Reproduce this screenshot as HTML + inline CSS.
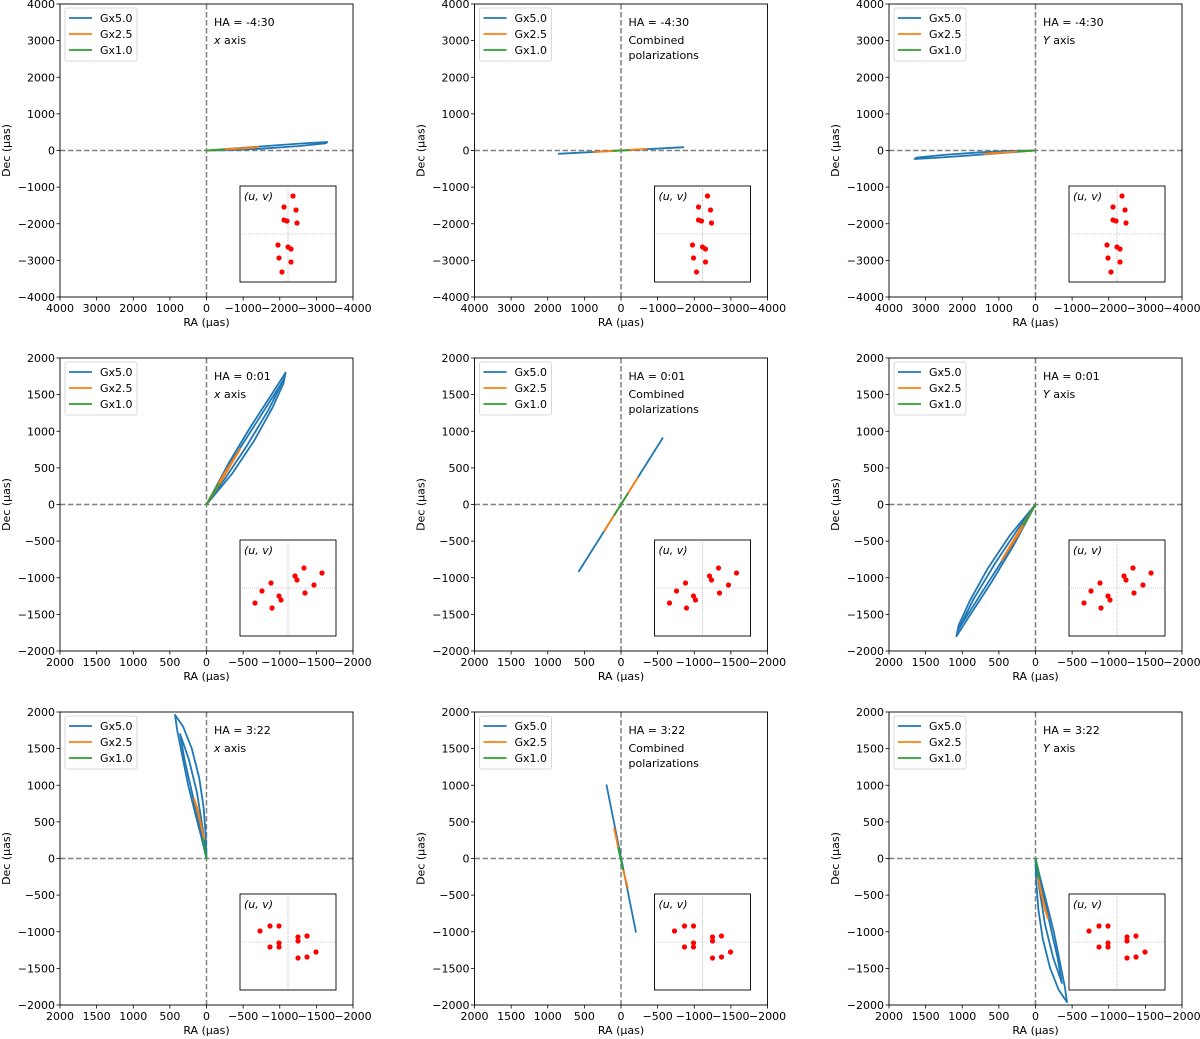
<!DOCTYPE html>
<html><head><meta charset="utf-8">
<style>
html,body{margin:0;padding:0;background:#fff;}
svg{display:block;font-family:"DejaVu Sans","Liberation Sans",sans-serif;}
</style></head>
<body>
<svg id="fig" width="1200" height="1039" viewBox="0 0 1200 1039" xmlns="http://www.w3.org/2000/svg"></svg>
<script>
// ---------- data ----------
const haLabels = ["HA = -4:30", "HA = 0:01", "HA = 3:22"];
const colLabels1 = ["x axis", "Combined", "Y axis"];
const colLabels2 = ["", "polarizations", ""];
const legendNames = ["Gx5.0", "Gx2.5", "Gx1.0"];
const rowLimits = [4000, 2000, 2000];
const ticksRow1 = [4000, 3000, 2000, 1000, 0, -1000, -2000, -3000, -4000];
const ticksRow23 = [2000, 1500, 1000, 500, 0, -500, -1000, -1500, -2000];

// (u,v) inset points, per row
const uvRow1 = [[5,38],[-4,27],[8,24],[-4,14],[-1,13],[9,11],[-10,-11],[0,-13],[3,-15],[-9,-24],[3,-28],[-6,-38]];
const uvRow2 = [[16,20],[34,15],[7,12],[9,8],[26,3],[17,-5],[-17,5],[-26,-3],[-9,-8],[-7,-12],[-33,-15],[-16,-20]];
const uvRow3 = [[-28,11],[-18,16],[-9,16],[-9,-1],[-9,-5],[-18,-5],[10,5],[10,1],[19,6],[10,-16],[19,-15],[28,-10]];

// Row 1 curves [RA, Dec]
const r1c1Blue = [[0,0],[-1000,75],[-2000,150],[-2800,205],[-3300,232],[-3250,195],[-2500,120],[-1500,50],[-700,12],[0,0]];
const r1c1Orange = [[0,0],[-700,45],[-1400,95],[-1300,80],[-600,30],[0,0]];
const r1c1Green = [[0,0],[-500,30]];
const r1c2Blue = [[1720,-90],[-1720,90]];
const r1c2Orange = [[760,-45],[-710,45]];
const r1c2Green = [[220,-12],[-220,12]];
const r1c3Blue = [[0,0],[1000,-75],[2000,-150],[2800,-205],[3300,-232],[3250,-195],[2500,-120],[1500,-50],[700,-12],[0,0]];
const r1c3Orange = [[0,0],[700,-45],[1400,-95],[1300,-80],[600,-30],[0,0]];
const r1c3Green = [[0,0],[500,-30]];

// Row 2 curves
const r2c1BlueA = [[0,0],[-300,560],[-600,1060],[-900,1520],[-1080,1800],[-1050,1650],[-900,1320],[-650,870],[-350,420],[0,0]];
const r2c1BlueB = [[0,0],[-350,600],[-700,1150],[-1000,1620],[-1060,1720],[-850,1300],[-550,800],[-250,350],[0,0]];
const r2c1Orange = [[0,0],[-230,400],[-460,760],[-420,690],[-200,320],[0,0]];
const r2c1Green = [[0,0],[-170,290]];
const r2c2Blue = [[580,-920],[-573,914]];
const r2c2Orange = [[232,-370],[-232,370]];
const r2c2Green = [[95,-150],[-95,150]];
const r2c3BlueA = [[0,0],[300,-560],[600,-1060],[900,-1520],[1080,-1800],[1050,-1650],[900,-1320],[650,-870],[350,-420],[0,0]];
const r2c3BlueB = [[0,0],[350,-600],[700,-1150],[1000,-1620],[1060,-1720],[850,-1300],[550,-800],[250,-350],[0,0]];
const r2c3Orange = [[0,0],[230,-400],[460,-760],[420,-690],[200,-320],[0,0]];
const r2c3Green = [[0,0],[170,-290]];

// Row 3 curves
const r3c1BlueA = [[0,0],[10,300],[40,700],[100,1100],[200,1500],[320,1800],[430,1960],[400,1750],[330,1400],[250,1000],[150,600],[60,250],[0,0]];
const r3c1BlueB = [[0,0],[50,400],[130,900],[240,1350],[360,1700],[300,1350],[220,1000],[120,550],[0,0]];
const r3c1Orange = [[30,250],[100,550],[170,820],[130,700],[60,400],[30,250]];
const r3c1Green = [[0,0],[50,280]];
const r3c2Blue = [[200,1010],[-205,-1010]];
const r3c2Orange1 = [[95,420],[40,150]];
const r3c2Orange2 = [[-30,-160],[-95,-410]];
const r3c2Green = [[40,150],[-30,-160]];
const r3c3BlueA = [[0,0],[-10,-300],[-40,-700],[-100,-1100],[-200,-1500],[-320,-1800],[-430,-1960],[-400,-1750],[-330,-1400],[-250,-1000],[-150,-600],[-60,-250],[0,0]];
const r3c3BlueB = [[0,0],[-50,-400],[-130,-900],[-240,-1350],[-360,-1700],[-300,-1350],[-220,-1000],[-120,-550],[0,0]];
const r3c3Orange = [[-30,-250],[-100,-550],[-170,-820],[-130,-700],[-60,-400],[-30,-250]];
const r3c3Green = [[0,0],[-50,-280]];

const BLUE="#1f77b4", ORANGE="#ff7f0e", GREEN="#2ca02c";
const seriesByPanel = [
 [[[r1c1Blue,BLUE],[r1c1Orange,ORANGE],[r1c1Green,GREEN]],
  [[r1c2Blue,BLUE],[r1c2Orange,ORANGE],[r1c2Green,GREEN]],
  [[r1c3Blue,BLUE],[r1c3Orange,ORANGE],[r1c3Green,GREEN]]],
 [[[r2c1BlueA,BLUE],[r2c1BlueB,BLUE],[r2c1Orange,ORANGE],[r2c1Green,GREEN]],
  [[r2c2Blue,BLUE],[r2c2Orange,ORANGE],[r2c2Green,GREEN]],
  [[r2c3BlueA,BLUE],[r2c3BlueB,BLUE],[r2c3Orange,ORANGE],[r2c3Green,GREEN]]],
 [[[r3c1BlueA,BLUE],[r3c1BlueB,BLUE],[r3c1Orange,ORANGE],[r3c1Green,GREEN]],
  [[r3c2Blue,BLUE],[r3c2Orange1,ORANGE],[r3c2Orange2,ORANGE],[r3c2Green,GREEN]],
  [[r3c3BlueA,BLUE],[r3c3BlueB,BLUE],[r3c3Orange,ORANGE],[r3c3Green,GREEN]]]
];
const uvByRow = [uvRow1, uvRow2, uvRow3];

// ---------- drawing ----------
const NS="http://www.w3.org/2000/svg";
const svg=document.getElementById('fig');
function mk(tag, attrs, parent, text){
  const e=document.createElementNS(NS,tag);
  for(const k in attrs) e.setAttribute(k, attrs[k]);
  if(text!==undefined) e.textContent=text;
  (parent||svg).appendChild(e);
  return e;
}
const colLeft=[60,474.5,889], rowTop=[4,358,712], SZ=293;
const fmt=v=> v<0 ? "\u2212"+(-v) : ""+v;

for(let r=0;r<3;r++){
 for(let c=0;c<3;c++){
  const L=colLeft[c], T=rowTop[r], lim=rowLimits[r];
  const xs=v=> L + (lim - v)/(2*lim)*SZ;   // RA reversed
  const ys=v=> T + (lim - v)/(2*lim)*SZ;
  const g=mk('g',{});
  
  
  const zx=mk('line',{x1:xs(0),x2:xs(0),y1:T,y2:T+SZ,stroke:'#808080','stroke-width':1.5,'stroke-dasharray':'5.5,2.5'},g);
  
  
  const zy=mk('line',{x1:L,x2:L+SZ,y1:ys(0),y2:ys(0),stroke:'#808080','stroke-width':1.5,'stroke-dasharray':'5.5,2.5'},g);
  
  
  seriesByPanel[r][c].forEach(([pts,col])=>{
    const p=mk('polyline',{points:pts.map(q=>xs(q[0]).toFixed(1)+','+ys(q[1]).toFixed(1)).join(' '),fill:'none',stroke:col,'stroke-width':1.8,'stroke-linejoin':'round'},g);
    
    
  });
  const fr=mk('rect',{x:L,y:T,width:SZ,height:SZ,fill:'none',stroke:'#000','stroke-width':0.9},g);
  
  
  const ticks = r===0?ticksRow1:ticksRow23;
  ticks.forEach(t=>{
    mk('line',{x1:xs(t),x2:xs(t),y1:T+SZ,y2:T+SZ+3.5,stroke:'#000','stroke-width':0.8},g);
    const tx=mk('text',{x:xs(t),y:T+SZ+15,'text-anchor':'middle','font-size':11,fill:'#000'},g,fmt(t));
    
    
    mk('line',{x1:L-3.5,x2:L,y1:ys(t),y2:ys(t),stroke:'#000','stroke-width':0.8},g);
    const ty=mk('text',{x:L-5,y:ys(t)+4,'text-anchor':'end','font-size':11,fill:'#000'},g,fmt(t));
    
    
  });
  const xl=mk('text',{x:L+SZ/2,y:T+SZ+29,'text-anchor':'middle','font-size':11,fill:'#000'},g,"RA (\u00b5as)");
  
  
  const yl=mk('text',{x:0,y:0,'text-anchor':'middle','font-size':11,fill:'#000',transform:`translate(${L-50},${T+SZ/2}) rotate(-90)`},g,"Dec (\u00b5as)");
  
  
  const lg=mk('g',{},g);
  
  
  mk('rect',{x:L+5,y:T+4,width:72,height:53,rx:2,fill:'#fff',stroke:'#d0d0d0','stroke-width':0.8},lg);
  [BLUE,ORANGE,GREEN].forEach((col,i)=>{
    const y=T+14+i*16;
    mk('line',{x1:L+9,x2:L+32,y1:y,y2:y,stroke:col,'stroke-width':1.8},lg);
    const le=mk('text',{x:L+40,y:y+4,'font-size':11,fill:'#000'},lg,legendNames[i]);
    
    
  });
  const a1=mk('text',{x:L+154,y:T+22,'font-size':11,fill:'#000'},g,haLabels[r]);
  
  
  const a2=mk('text',{x:L+154,y:T+40,'font-size':11,fill:'#000'},g);
  
  
  if(c===1){ a2.textContent=colLabels1[1]; mk('text',{x:L+154,y:T+55,'font-size':11,fill:'#000'},g,colLabels2[1]); }
  else { const parts=colLabels1[c].split(' ');
    mk('tspan',{'font-style':'italic'},a2,parts[0]); mk('tspan',{},a2,' '+parts[1]); }
  const IX=L+180, IY=T+182, IS=96;
  const ig=mk('g',{},g);
  
  
  mk('rect',{x:IX,y:IY,width:IS,height:IS,fill:'#fff',stroke:'#000','stroke-width':0.9},ig);
  const ux=v=>IX+IS/2+v, uy=v=>IY+IS/2-v;
  mk('line',{x1:ux(0),x2:ux(0),y1:IY,y2:IY+IS,stroke:'#999','stroke-width':0.6,'stroke-dasharray':'1,1'},ig);
  mk('line',{x1:IX,x2:IX+IS,y1:uy(0),y2:uy(0),stroke:'#999','stroke-width':0.6,'stroke-dasharray':'1,1'},ig);
  const il=mk('text',{x:IX+4,y:IY+14,'font-size':11,fill:'#000','font-style':'italic'},ig,"(u, v)");
  
  
  uvByRow[r].forEach(p=>{
    const d=mk('circle',{cx:ux(p[0]),cy:uy(p[1]),r:2.6,fill:'#ff0000'},ig);
    
    
  });
 }
}
</script>
</body></html>
